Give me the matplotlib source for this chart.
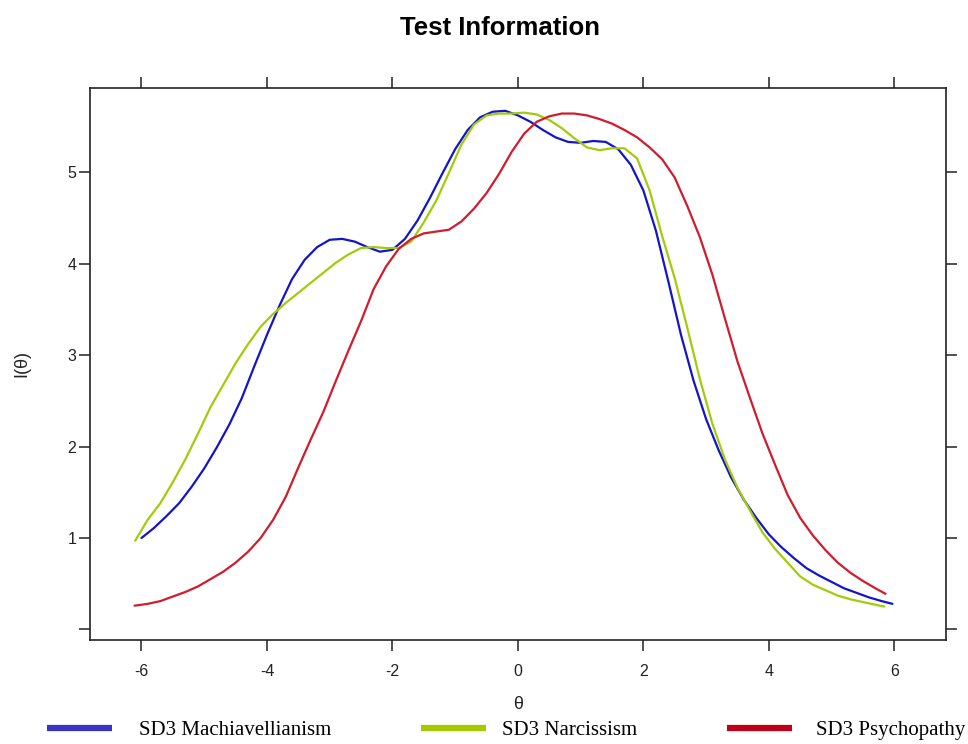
import matplotlib
matplotlib.use('Agg')
import matplotlib.pyplot as plt
from matplotlib.lines import Line2D

plt.rcParams['axes.unicode_minus'] = False

# values
mach_theta = [-6.0, -5.8, -5.6, -5.4, -5.2, -5.0, -4.8, -4.6, -4.4, -4.2, -4.0, -3.8, -3.6, -3.4,
              -3.2, -3.0, -2.8, -2.6, -2.4, -2.2, -2.0, -1.8, -1.6, -1.4, -1.2, -1.0, -0.8, -0.6,
              -0.4, -0.2, 0.0, 0.2, 0.4, 0.6, 0.8, 1.0, 1.2, 1.4, 1.6, 1.8, 2.0, 2.2, 2.4, 2.6,
              2.8, 3.0, 3.2, 3.4, 3.6, 3.8, 4.0, 4.2, 4.4, 4.6, 4.8, 5.0, 5.2, 5.4, 5.6, 5.8, 5.97]
mach_info = [1.00, 1.11, 1.24, 1.38, 1.56, 1.76, 1.99, 2.24, 2.53, 2.88, 3.22, 3.54, 3.83, 4.04,
             4.18, 4.26, 4.27, 4.24, 4.18, 4.13, 4.15, 4.27, 4.47, 4.72, 4.99, 5.25, 5.46, 5.60,
             5.66, 5.67, 5.62, 5.55, 5.46, 5.38, 5.33, 5.32, 5.34, 5.33, 5.25, 5.08, 4.80, 4.36,
             3.80, 3.22, 2.72, 2.30, 1.96, 1.66, 1.42, 1.22, 1.04, 0.90, 0.78, 0.67, 0.59, 0.52,
             0.45, 0.40, 0.35, 0.31, 0.28]

narc_theta = [-6.1, -5.9, -5.7, -5.5, -5.3, -5.1, -4.9, -4.7, -4.5, -4.3, -4.1, -3.9, -3.7, -3.5,
              -3.3, -3.1, -2.9, -2.7, -2.5, -2.3, -2.1, -1.9, -1.7, -1.5, -1.3, -1.1, -0.9, -0.7,
              -0.5, -0.3, -0.1, 0.1, 0.3, 0.5, 0.7, 0.9, 1.1, 1.3, 1.5, 1.7, 1.9, 2.1, 2.3, 2.5,
              2.7, 2.9, 3.1, 3.3, 3.5, 3.7, 3.9, 4.1, 4.3, 4.5, 4.7, 4.9, 5.1, 5.3, 5.5, 5.7, 5.84]
narc_info = [0.97, 1.20, 1.38, 1.61, 1.86, 2.14, 2.43, 2.67, 2.91, 3.12, 3.31, 3.45, 3.57, 3.68,
             3.79, 3.90, 4.01, 4.10, 4.17, 4.18, 4.17, 4.17, 4.24, 4.45, 4.69, 4.99, 5.30, 5.52,
             5.62, 5.64, 5.64, 5.65, 5.63, 5.57, 5.48, 5.37, 5.27, 5.24, 5.26, 5.26, 5.15, 4.80,
             4.30, 3.84, 3.30, 2.74, 2.25, 1.86, 1.55, 1.30, 1.06, 0.88, 0.73, 0.58, 0.49, 0.43,
             0.37, 0.33, 0.30, 0.27, 0.25]

psych_theta = [-6.11, -5.9, -5.7, -5.5, -5.3, -5.1, -4.9, -4.7, -4.5, -4.3, -4.1, -3.9, -3.7, -3.5,
               -3.3, -3.1, -2.9, -2.7, -2.5, -2.3, -2.1, -1.9, -1.7, -1.5, -1.3, -1.1, -0.9, -0.7,
               -0.5, -0.3, -0.1, 0.1, 0.3, 0.5, 0.7, 0.9, 1.1, 1.3, 1.5, 1.7, 1.9, 2.1, 2.3, 2.5,
               2.7, 2.9, 3.1, 3.3, 3.5, 3.7, 3.9, 4.1, 4.3, 4.5, 4.7, 4.9, 5.1, 5.3, 5.5, 5.7, 5.86]
psych_info = [0.26, 0.28, 0.31, 0.36, 0.41, 0.47, 0.55, 0.63, 0.73, 0.85, 1.00, 1.20, 1.45, 1.77,
              2.08, 2.38, 2.72, 3.05, 3.37, 3.72, 3.97, 4.16, 4.27, 4.33, 4.35, 4.37, 4.46, 4.60,
              4.77, 4.98, 5.22, 5.42, 5.55, 5.61, 5.64, 5.64, 5.62, 5.58, 5.53, 5.46, 5.38, 5.27,
              5.14, 4.94, 4.63, 4.29, 3.88, 3.40, 2.93, 2.53, 2.14, 1.80, 1.47, 1.22, 1.03, 0.87,
              0.73, 0.62, 0.53, 0.45, 0.39]

labels = ['SD3 Machiavellianism', 'SD3 Narcissism', 'SD3 Psychopathy']
line_colors = ['#1414c8', '#a2cc0a', '#d01c2c']
legend_colors = ['#3b32c0', '#a6c800', '#c00018']
x_ticks = [-6, -4, -2, 0, 2, 4, 6]
y_ticks = [0, 1, 2, 3, 4, 5]
y_ticklabels = ['', '1', '2', '3', '4', '5']

fig = plt.figure(figsize=(9.68, 7.44), dpi=100)
ax = fig.add_axes([0.093, 0.1398, 0.884, 0.742])

series = [(mach_theta, mach_info), (narc_theta, narc_info), (psych_theta, psych_info)]
for (t, v), c in zip(series, line_colors):
    ax.plot(t, v, color=c, lw=1.6, solid_joinstyle='round', solid_capstyle='round')

ax.set_xlim(-6.82, 6.82)
ax.set_ylim(-0.115, 5.92)
ax.set_xticks(x_ticks)
ax.set_yticks(y_ticks)
ax.set_yticklabels(y_ticklabels)
ax.tick_params(direction='out', length=8, width=1.1, top=True, right=True,
               labelsize=11.5, colors='#222222')
ax.tick_params(axis='x', pad=9)
ax.tick_params(axis='y', pad=2)
for lab in ax.get_xticklabels() + ax.get_yticklabels():
    lab.set_family('Liberation Sans')
for s in ax.spines.values():
    s.set_linewidth(1.2)
    s.set_color('#222222')

ax.set_xlabel('θ', fontsize=13, family='Liberation Sans', color='#222222')
ax.set_ylabel('I(θ)', fontsize=13, family='Liberation Sans', color='#222222')
ax.xaxis.set_label_coords(0.5, -0.101)
ax.yaxis.set_label_coords(-0.070, 0.5)
fig.text(0.5165, 0.963, 'Test Information', fontsize=18.5, fontweight='bold',
         family='Liberation Sans', ha='center', va='center')

# legend entries below the plot, each placed separately
legend_x = [0.0486, 0.4349, 0.751]
legend_gap = [1.3, 0.77, 1.15]
for lab, c, lx, gap in zip(labels, legend_colors, legend_x, legend_gap):
    h = Line2D([], [], color=c, lw=4.5, solid_capstyle='butt')
    fig.legend([h], [lab], loc='center left', bbox_to_anchor=(lx, 0.0185), frameon=False,
               handlelength=3.12, handletextpad=gap, borderpad=0, borderaxespad=0,
               prop={'family': 'Liberation Serif', 'size': 15})

fig.savefig('out.png', dpi=100)
